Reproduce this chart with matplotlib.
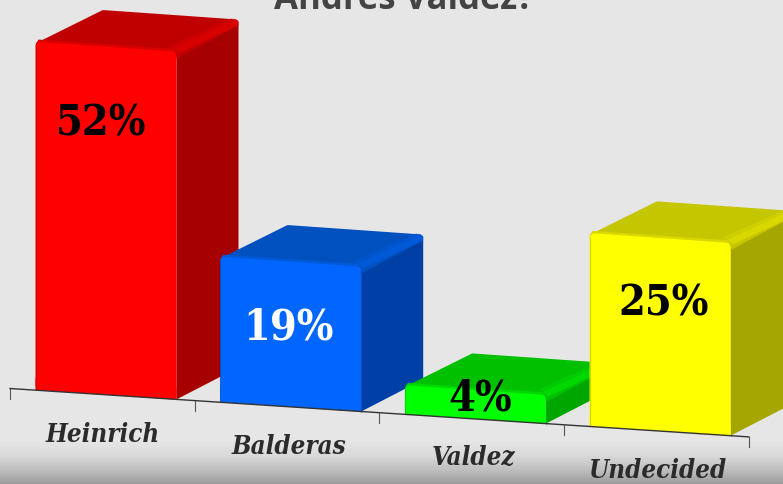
import numpy as np
import matplotlib
matplotlib.use("Agg")
import matplotlib.pyplot as plt
from matplotlib.patches import Polygon

categories = ["Heinrich", "Balderas", "Valdez", "Undecided"]
percent_labels = ["52%", "19%", "4%", "25%"]
# bar heights as drawn, in percent units of the chart's own scale
bar_heights = [45.8, 19.1, 3.8, 25.4]
front_colors = ["#ff0000", "#0066ff", "#00ff00", "#ffff00"]
top_colors = ["#c00000", "#0050c0", "#00c000", "#c6c600"]
side_colors = ["#a60000", "#0040a6", "#00a600", "#a6a600"]
rim_colors = ["#d80000", "#005ad8", "#00d800", "#d8d800"]
label_colors = ["black", "white", "black", "black"]

# layout, in pixels
W, H = 783, 484
axis_x0, pitch = 10, 184.7
axis_y0, slope = 388.5, 0.0655
per_unit = 7.6
bar_pad, bar_w = 25.5, 141
depth_left = (68, -32)
depth_right = (62, -32)
label_dx = [-5, -2, 5, 4]
label_dy = [81, 70, 13, 70]
cat_y = [434, 446, 457, 471]
cat_dx = [-3, -2, -2, -3]

serif = {"family": "DejaVu Serif", "stretch": "condensed", "weight": "bold"}


def base_y(x):
    return axis_y0 + slope * (x - axis_x0)


fig = plt.figure(figsize=(W / 100, H / 100), dpi=100)
ax = fig.add_axes([0, 0, 1, 1])
ax.set_xlim(0, W)
ax.set_ylim(H, 0)
ax.axis("off")

# background with the dark band along the bottom
grad = np.interp(np.arange(H), [0, 440, 455, 470, 484], [0.9, 0.9, 0.85, 0.74, 0.6])
ax.imshow(grad[:, None], cmap="gray", vmin=0, vmax=1, extent=[0, W, H, 0], aspect="auto", zorder=0)

ax.text(404, 9, "Andrés Valdez?", family="Open Sans", weight="bold", fontsize=25,
        color="#444444", ha="center", va="baseline", zorder=1)


def face(pts, color, z, lw=0.0, alpha=1.0):
    ax.add_patch(Polygon(pts, closed=True, facecolor=color, edgecolor=color, linewidth=lw,
                         joinstyle="round", zorder=z, alpha=alpha))


for i, v in enumerate(bar_heights):
    xl = axis_x0 + pitch * i + bar_pad
    xr = xl + bar_w
    yl, yr = base_y(xl), base_y(xr)
    h = v * per_unit
    z = 2 + i
    fr_top = (xr, yr - h)
    bl_top = (xl + depth_left[0], yl - h + depth_left[1])
    br_top = (xr + depth_right[0], yr - h + depth_right[1])
    br_bot = (xr + depth_right[0], yr + depth_right[1])

    # side and top faces, rounded by a thick round-joined edge
    face([(xr, yr), (xr, yr - h + 4), (br_top[0], br_top[1] + 5), br_bot], side_colors[i], z)
    r = 3.5
    face([(xl + r, yl - h + r), (bl_top[0], bl_top[1] + r), (br_top[0] - r, br_top[1] + r),
          (br_top[0] - r, br_top[1] + 4), (xr, yr - h + r)], top_colors[i], z, lw=2 * r * 0.72)
    # lighter rim towards the side face, fading into the top
    face([(xr - 3, yr - h - 3), (xr + 2, yr - h + 2), (br_top[0], br_top[1] + 6),
          (br_top[0], br_top[1] + 2), (br_top[0] - 3, br_top[1])], rim_colors[i], z)
    face([(xr - 8, yr - h - 5), (xr - 3, yr - h - 3), (br_top[0] - 3, br_top[1]),
          (br_top[0] - 7, br_top[1] - 1)], rim_colors[i], z, alpha=0.5)
    # same lighter rim along the front of the top face
    face([(xl + 3, yl - h - 2.5), (xr - 3, yr - h - 2.5), (xr, yr - h + 2), (xl, yl - h + 2)],
         rim_colors[i], z + 0.1)

    # front face: round upper corners, square lower ones
    r = 5.0
    face([(xl + r, yl - h + r), (xr - r, yr - h + r), (xr - r, yr - r), (xl + r, yl - r)],
         front_colors[i], z + 0.2, lw=2 * r * 0.72)
    low = min(h, 12)
    face([(xl, yl - low), (xr, yr - low), (xr, yr), (xl, yl)], front_colors[i], z + 0.2)
    # thin darker edge at both sides of the front
    for x0, y0 in ((xl, yl), (xr, yr)):
        ax.plot([x0, x0], [y0, y0 - h + 5], color=side_colors[i], lw=0.8, alpha=0.45, zorder=z + 0.3)

    ax.text((xl + xr) / 2 + label_dx[i], yl - h + label_dy[i], percent_labels[i],
            fontsize=31, color=label_colors[i], ha="center", va="center", zorder=10, **serif)
    ax.text((xl + xr) / 2 + cat_dx[i], cat_y[i], categories[i], style="italic", fontsize=18.5,
            color="#2b2b2b", ha="center", va="center", zorder=10, **serif)

# category axis with its ticks
tick_x = axis_x0 + pitch * np.arange(len(categories) + 1)
ax.plot(tick_x[[0, -1]], base_y(tick_x[[0, -1]]), color="#333333", lw=1.0, zorder=9)
for x in tick_x:
    ax.plot([x, x], [base_y(x), base_y(x) + 10], color="#555555", lw=0.8, zorder=9)

fig.savefig("out.png", dpi=100)
